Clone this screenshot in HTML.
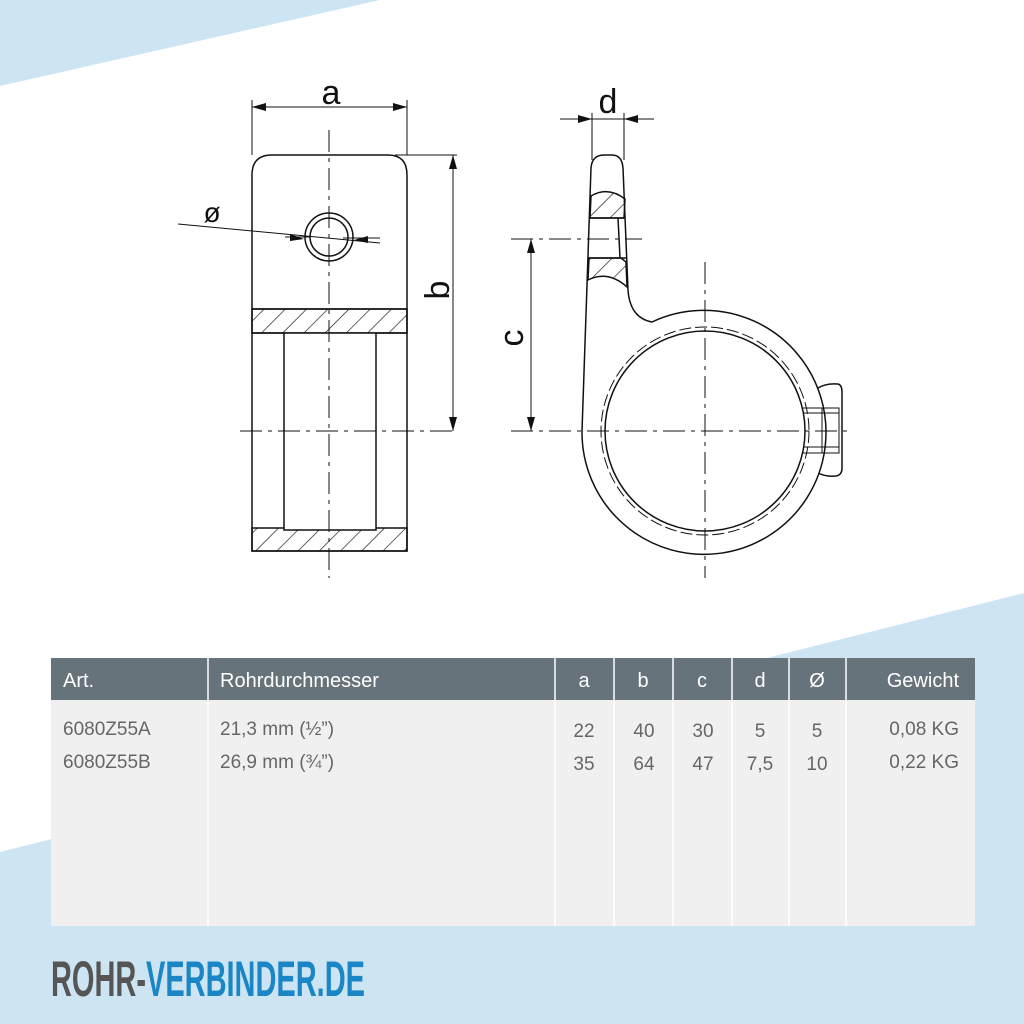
<!DOCTYPE html>
<html><head><meta charset="utf-8"><style>
html,body{margin:0;padding:0;background:#fff;}
svg{display:block;}
text{font-family:"Liberation Sans",sans-serif;}
</style></head><body>
<svg width="1024" height="1024" viewBox="0 0 1024 1024" xmlns="http://www.w3.org/2000/svg">
<defs>
<pattern id="h" patternUnits="userSpaceOnUse" width="15" height="15" patternTransform="rotate(45)">
<line x1="0" y1="0" x2="0" y2="15" stroke="#111" stroke-width="1.3"/>
</pattern>
</defs>
<rect width="1024" height="1024" fill="#fff"/>
<polygon points="0,0 380,0 0,86" fill="#cde5f2"/>
<polygon points="0,852 1024,593 1024,1024 0,1024" fill="#cde5f2"/>

<g fill="none" stroke="#111" stroke-width="1.5">
<!-- LEFT VIEW -->
<path d="M252,551 L252,175 Q252,155 272,155 L388,155 Q407,155 407,175 L407,551 Z" fill="#fff"/>
<rect x="252" y="309" width="155" height="24" fill="url(#h)"/>
<rect x="252" y="528" width="155" height="23" fill="url(#h)"/>
<line x1="252" y1="309" x2="407" y2="309"/>
<line x1="252" y1="333" x2="284" y2="333"/><line x1="376" y1="333" x2="407" y2="333"/>
<rect x="284" y="333" width="92" height="197" fill="#fff"/>
<circle cx="329" cy="237" r="24" fill="#fff"/>
<circle cx="329" cy="237" r="19"/>
<g stroke-width="1" stroke-dasharray="22,6,4,6">
<line x1="329" y1="130" x2="329" y2="578"/>
<line x1="240" y1="431" x2="455" y2="431"/>
</g>
<line x1="252" y1="100" x2="252" y2="155" stroke-width="1"/>
<line x1="407" y1="100" x2="407" y2="155" stroke-width="1"/>
<line x1="252" y1="107" x2="407" y2="107" stroke-width="1"/>
<line x1="395" y1="155" x2="457" y2="155" stroke-width="1"/>
<line x1="453" y1="155" x2="453" y2="431" stroke-width="1"/>
<line x1="178" y1="224" x2="380" y2="243" stroke-width="1"/>
<line x1="285" y1="237" x2="310" y2="237" stroke-width="1"/>
<line x1="343" y1="238" x2="380" y2="238" stroke-width="1"/>

<!-- RIGHT VIEW -->
<path d="M818,388 Q826,383 838,384 Q842,385 842,392 L842,468 Q842,475 836,476 Q826,477 818,473" fill="#fff"/>
<path d="M582,431 L591,168 Q592,155 604,155 L612,155 Q622,155 623,168 L628,290 Q630,318 652,322 A122,122 0 1 1 582,431 Z" fill="#fff"/>
<path d="M590,218 L591,196 Q608,186 625,199 L624,218 Z" fill="url(#h)"/>
<path d="M589,258 L621,258 L626,262 L627,287 Q608,270 588,280 Z" fill="url(#h)"/>
<line x1="590" y1="218" x2="624" y2="218"/>
<line x1="589" y1="258" x2="626" y2="258"/>
<line x1="618" y1="218" x2="620" y2="258"/>
<circle cx="705" cy="431" r="100" fill="#fff"/>
<circle cx="705" cy="431" r="104" stroke-dasharray="12,4" stroke-width="1"/>
<path d="M803,408 L839,408 L839,453 L803,453 M803,413 L839,413 M803,447 L839,447 M822,408 L822,453" stroke-width="1"/>
<g stroke-width="1" stroke-dasharray="22,6,4,6">
<line x1="705" y1="262" x2="705" y2="578"/>
<line x1="511" y1="431" x2="850" y2="431"/>
<line x1="511" y1="239" x2="642" y2="239"/>
</g>
<line x1="531" y1="239" x2="531" y2="431" stroke-width="1"/>
<line x1="592" y1="113" x2="592" y2="160" stroke-width="1"/>
<line x1="624" y1="113" x2="624" y2="160" stroke-width="1"/>
<line x1="560" y1="119" x2="654" y2="119" stroke-width="1"/>
</g>
<g fill="#111">
<polygon points="252,107 266,103 266,111"/><polygon points="407,107 393,103 393,111"/>
<polygon points="453,155 449,169 457,169"/><polygon points="453,431 449,417 457,417"/>
<polygon points="531,239 527,253 535,253"/><polygon points="531,431 527,417 535,417"/>
<polygon points="592,119 578,115 578,123"/><polygon points="624,119 638,115 638,123"/>
<polygon points="304,239 290,234 290,241"/><polygon points="354,240 368,236 368,243"/>
</g>
<g font-size="34" fill="#111">
<text x="331" y="104" text-anchor="middle">a</text>
<text x="608" y="113" text-anchor="middle">d</text>
<text x="212" y="222" text-anchor="middle" font-size="28">ø</text>
<text transform="translate(449,290) rotate(-90)" text-anchor="middle">b</text>
<text transform="translate(523,338) rotate(-90)" text-anchor="middle">c</text>
</g>

<!-- TABLE -->
<rect x="51" y="658" width="924" height="268" fill="#f0f0f0"/>
<rect x="51" y="658" width="924" height="42" fill="#67737b"/>
<g stroke="#fff" stroke-width="1.5">
<line x1="208" y1="658" x2="208" y2="926"/><line x1="555" y1="658" x2="555" y2="926"/>
<line x1="614" y1="658" x2="614" y2="926"/><line x1="673" y1="658" x2="673" y2="926"/>
<line x1="732" y1="658" x2="732" y2="926"/><line x1="789" y1="658" x2="789" y2="926"/>
<line x1="846" y1="658" x2="846" y2="926"/>
</g>
<g font-size="20" fill="#fff">
<text x="63" y="687">Art.</text>
<text x="220" y="687">Rohrdurchmesser</text>
<text x="584" y="687" text-anchor="middle">a</text>
<text x="643" y="687" text-anchor="middle">b</text>
<text x="702" y="687" text-anchor="middle">c</text>
<text x="760" y="687" text-anchor="middle">d</text>
<text x="817" y="687" text-anchor="middle">Ø</text>
<text x="959" y="687" text-anchor="end">Gewicht</text>
</g>
<g font-size="19" fill="#666">
<text x="63" y="735">6080Z55A</text>
<text x="220" y="735">21,3 mm (½”)</text>
<text x="584" y="737" text-anchor="middle">22</text>
<text x="644" y="737" text-anchor="middle">40</text>
<text x="703" y="737" text-anchor="middle">30</text>
<text x="760" y="737" text-anchor="middle">5</text>
<text x="817" y="737" text-anchor="middle">5</text>
<text x="959" y="735" text-anchor="end">0,08 KG</text>
<text x="63" y="768">6080Z55B</text>
<text x="220" y="768">26,9 mm (¾”)</text>
<text x="584" y="770" text-anchor="middle">35</text>
<text x="644" y="770" text-anchor="middle">64</text>
<text x="703" y="770" text-anchor="middle">47</text>
<text x="760" y="770" text-anchor="middle">7,5</text>
<text x="817" y="770" text-anchor="middle">10</text>
<text x="959" y="768" text-anchor="end">0,22 KG</text>
</g>
<text x="51" y="996" font-size="50" font-weight="bold" textLength="314" lengthAdjust="spacingAndGlyphs"><tspan fill="#555">ROHR-</tspan><tspan fill="#1a86c6">VERBINDER.DE</tspan></text>
</svg>
</body></html>
